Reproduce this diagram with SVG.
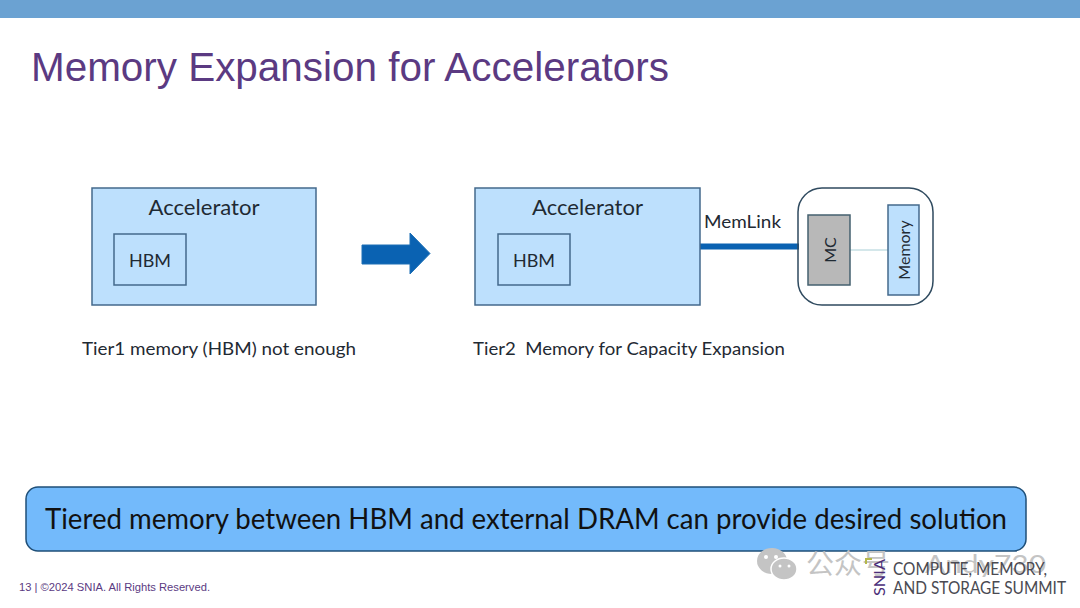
<svg xmlns="http://www.w3.org/2000/svg" width="1080" height="608" viewBox="0 0 1080 608">
<style>
.c{font-family:Lato,"Noto Sans",sans-serif;fill:#1f2a33}
.box{fill:#bde0fd;stroke:#44698c;stroke-width:1.5}
.a{font-size:22px;text-anchor:middle}
.h{font-size:18px;text-anchor:middle}
.l{font-size:18px}
.s{font-family:Lato,"Noto Sans",sans-serif;font-size:17px;fill:#4a4a52}
.w{fill:#c4c4c4}
</style>
<rect width="1080" height="608" fill="#fff"/>
<rect id="top-bar" width="1080" height="18" fill="#6ba2d2"/>
<text x="31" y="81" font-family="'Liberation Sans',Arial,sans-serif" font-size="40" fill="#5b3a82" textLength="638" lengthAdjust="spacingAndGlyphs">Memory Expansion for Accelerators</text>
<g id="connectors">
<line x1="700" y1="246.500" x2="799" y2="246.500" stroke="#0a62b2" stroke-width="6"/>
<line x1="850" y1="250" x2="888" y2="250" stroke="#a9cfd6" stroke-width="1"/>
</g>
<g id="accel-1">
<rect class="box" x="92" y="188" width="224" height="117"/>
<text class="c a" x="204" y="215" textLength="111" lengthAdjust="spacingAndGlyphs">Accelerator</text>
</g>
<g id="hbm-1">
<rect class="box" x="114" y="234" width="72" height="51"/>
<text class="c h" x="150" y="267">HBM</text>
</g>
<polygon id="arrow" points="362,245 410,245 410,233 430,253.500 410,274 410,264 362,264" fill="#0a62b2" stroke="#1d6fb5" stroke-width="1"/>
<g id="accel-2">
<rect class="box" x="475" y="188" width="225" height="117"/>
<text class="c a" x="587.500" y="215" textLength="111" lengthAdjust="spacingAndGlyphs">Accelerator</text>
</g>
<g id="hbm-2">
<rect class="box" x="498" y="234" width="72" height="51"/>
<text class="c h" x="534" y="267">HBM</text>
</g>
<text class="c l" x="704" y="228" textLength="77" lengthAdjust="spacingAndGlyphs">MemLink</text>
<g id="module">
<rect x="798" y="188" width="135" height="117" rx="24" fill="none" stroke="#2f4a5f" stroke-width="1.500"/>
</g>
<g id="mc">
<rect x="808" y="215" width="42" height="70" fill="#b8b8b8" stroke="#44606f" stroke-width="1.500"/>
<text class="c" font-size="16" text-anchor="middle" transform="translate(836 250) rotate(-90)">MC</text>
</g>
<g id="memory">
<rect class="box" x="888" y="205" width="31" height="90"/>
<text class="c" font-size="16" text-anchor="middle" transform="translate(910 250) rotate(-90)">Memory</text>
</g>
<text class="c l" x="82" y="355" textLength="274" lengthAdjust="spacingAndGlyphs">Tier1 memory (HBM) not enough</text>
<text class="c l" x="473" y="355" textLength="312" lengthAdjust="spacingAndGlyphs" xml:space="preserve">Tier2  Memory for Capacity Expansion</text>
<g id="banner">
<rect x="26" y="487" width="1000" height="64" rx="12" fill="#73bafb" stroke="#1f4f78" stroke-width="1.500"/>
<text class="c" x="45" y="529" font-size="29" textLength="962" lengthAdjust="spacingAndGlyphs" style="fill:#111">Tiered memory between HBM and external DRAM can provide desired solution</text>
</g>
<text x="19" y="591" font-family="'Liberation Sans',Arial,sans-serif" font-size="10.500" fill="#5b3a82" textLength="191" lengthAdjust="spacingAndGlyphs">13 | ©2024 SNIA. All Rights Reserved.</text>
<g id="watermark">
<ellipse class="w" cx="772" cy="561" rx="15" ry="13"/>
<ellipse class="w" cx="784" cy="569" rx="13" ry="11" stroke="#fff" stroke-width="1.500"/>
<circle cx="766" cy="557" r="2" fill="#fff"/>
<circle cx="776" cy="557" r="2" fill="#fff"/>
<circle cx="780" cy="566" r="1.500" fill="#fff"/>
<circle cx="789" cy="566" r="1.500" fill="#fff"/>
<text class="w" x="806" y="574" font-family="'Noto Sans CJK SC',sans-serif" font-size="28">公众号</text>
<text class="w" x="925" y="573" font-family="Lato,sans-serif" font-size="25" textLength="121" lengthAdjust="spacingAndGlyphs">Andy730</text>
</g>
<path d="M866 564v-5h6" fill="none" stroke="#b5b84a" stroke-width="2"/>
<text transform="translate(885 596) rotate(-90)" font-family="Lato,sans-serif" font-size="16" fill="#4b2e78" textLength="37" lengthAdjust="spacingAndGlyphs">SNIA</text>
<text class="s" x="893" y="575" textLength="154" lengthAdjust="spacingAndGlyphs">COMPUTE, MEMORY,</text>
<text class="s" x="893" y="594" textLength="173" lengthAdjust="spacingAndGlyphs">AND STORAGE SUMMIT</text>
</svg>
